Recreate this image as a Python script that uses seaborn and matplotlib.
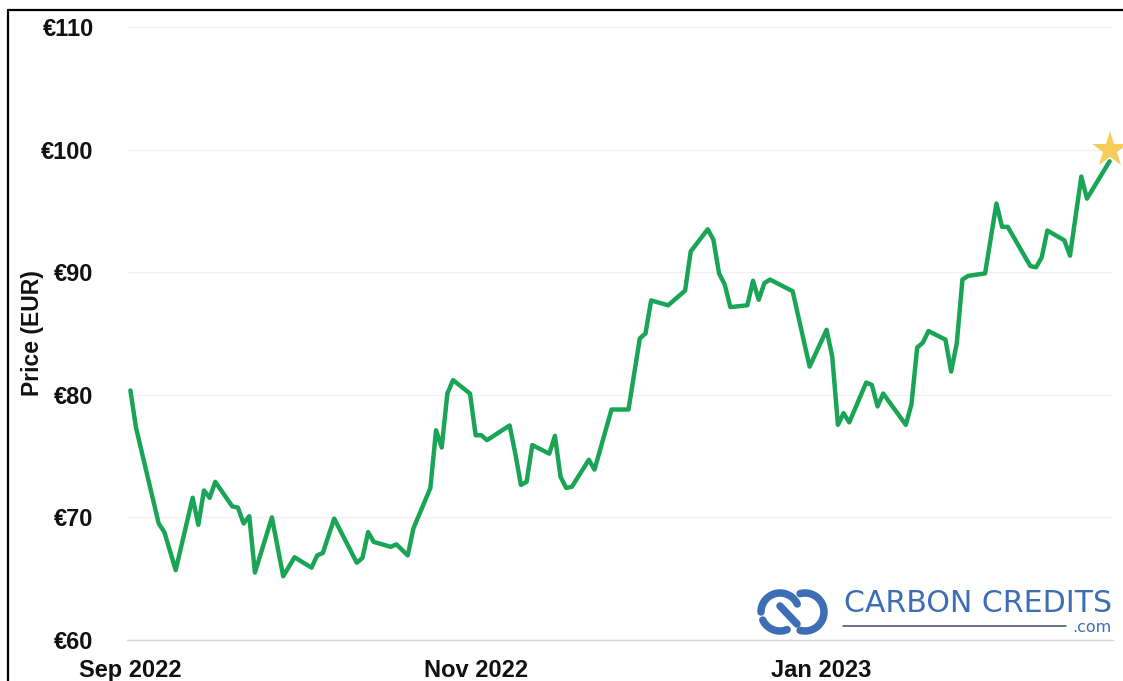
import numpy as np
import pandas as pd
import matplotlib
matplotlib.use("Agg")
import matplotlib.pyplot as plt
import matplotlib.dates as mdates
from matplotlib.lines import Line2D
import seaborn as sns

# EU carbon allowance settlement prices (EUR per tonne)
dates = [
    "2022-09-01", "2022-09-02", "2022-09-06", "2022-09-07", "2022-09-09",
    "2022-09-12", "2022-09-13", "2022-09-14", "2022-09-15", "2022-09-16",
    "2022-09-19", "2022-09-20", "2022-09-21", "2022-09-22", "2022-09-23",
    "2022-09-26", "2022-09-28", "2022-09-30", "2022-10-03", "2022-10-04",
    "2022-10-05", "2022-10-07", "2022-10-11", "2022-10-12", "2022-10-13",
    "2022-10-14", "2022-10-17", "2022-10-18", "2022-10-20", "2022-10-21",
    "2022-10-24", "2022-10-25", "2022-10-26", "2022-10-27", "2022-10-28",
    "2022-10-31", "2022-11-01", "2022-11-02", "2022-11-03", "2022-11-07",
    "2022-11-08", "2022-11-09", "2022-11-10", "2022-11-11", "2022-11-14",
    "2022-11-15", "2022-11-16", "2022-11-17", "2022-11-18", "2022-11-21",
    "2022-11-22", "2022-11-25", "2022-11-28", "2022-11-30", "2022-12-01",
    "2022-12-02", "2022-12-05", "2022-12-08", "2022-12-09", "2022-12-12",
    "2022-12-13", "2022-12-14", "2022-12-15", "2022-12-16", "2022-12-19",
    "2022-12-20", "2022-12-21", "2022-12-22", "2022-12-23", "2022-12-27",
    "2022-12-30", "2023-01-02", "2023-01-03", "2023-01-04", "2023-01-05",
    "2023-01-06", "2023-01-09", "2023-01-10", "2023-01-11", "2023-01-12",
    "2023-01-16", "2023-01-17", "2023-01-18", "2023-01-19", "2023-01-20",
    "2023-01-23", "2023-01-24", "2023-01-25", "2023-01-26", "2023-01-27",
    "2023-01-30", "2023-02-01", "2023-02-02", "2023-02-03", "2023-02-07",
    "2023-02-08", "2023-02-09", "2023-02-10", "2023-02-13", "2023-02-14",
    "2023-02-16", "2023-02-17", "2023-02-21",
]
prices = [
    80.35, 77.3, 69.5, 68.8, 65.7,
    71.6, 69.4, 72.2, 71.6, 72.9,
    70.9, 70.8, 69.5, 70.1, 65.5,
    70.0, 65.2, 66.75, 65.9, 66.9,
    67.1, 69.9, 66.3, 66.7, 68.8,
    68.0, 67.6, 67.8, 66.9, 69.1,
    72.4, 77.1, 75.7, 80.1, 81.2,
    80.1, 76.7, 76.7, 76.3, 77.5,
    75.2, 72.65, 72.9, 75.9, 75.2,
    76.65, 73.3, 72.4, 72.5, 74.7,
    73.9, 78.8, 78.8, 84.6, 85.0,
    87.7, 87.3, 88.5, 91.7, 93.5,
    92.65, 89.9, 89.0, 87.15, 87.3,
    89.3, 87.75, 89.1, 89.4, 88.45,
    82.3, 85.3, 83.1, 77.55, 78.5,
    77.75, 81.0, 80.8, 79.05, 80.1,
    77.55, 79.25, 83.85, 84.25, 85.2,
    84.5, 81.9, 84.2, 89.4, 89.7,
    89.9, 95.6, 93.7, 93.7, 90.5,
    90.4, 91.2, 93.4, 92.6, 91.35,
    97.8, 96.0, 99.05,
]

# Record high marker
peak_date = "2023-02-21"
peak_value = 100

x_tick_dates = ["2022-09-01", "2022-11-01", "2023-01-01"]
x_tick_labels = ["Sep 2022", "Nov 2022", "Jan 2023"]
y_ticks = [60, 70, 80, 90, 100, 110]
y_tick_labels = ["€60", "€70", "€80", "€90", "€100", "€110"]

df = pd.DataFrame({"date": pd.to_datetime(dates), "price": prices})

sns.set_theme(style="white")
plt.rcParams["font.family"] = ["Liberation Sans", "DejaVu Sans"]

W, H = 1123, 681
fig = plt.figure(figsize=(W / 100, H / 100), dpi=100)
fig.patch.set_facecolor("white")

left, right, top, bottom = 127, 1113, 27, 640
ax = fig.add_axes([left / W, 1 - bottom / H, (right - left) / W, (bottom - top) / H])

sns.lineplot(data=df, x="date", y="price", ax=ax, color="#19a456",
             linewidth=3.2, solid_joinstyle="round", solid_capstyle="round")
ax.plot(pd.Timestamp(peak_date), peak_value, marker="*", markersize=27,
        color="#f6cd5b", markeredgewidth=0, zorder=5, clip_on=False)

start = mdates.date2num(pd.Timestamp("2022-09-01"))
ax.set_xlim(start - 0.6, start + 173.6)
ax.set_ylim(60, 110)

ax.set_yticks(y_ticks)
ax.set_yticklabels(y_tick_labels)
ax.set_xticks(pd.to_datetime(x_tick_dates))
ax.set_xticklabels(x_tick_labels)

for lbl in ax.get_yticklabels() + ax.get_xticklabels():
    lbl.set_fontweight("bold")
    lbl.set_fontsize(17)
    lbl.set_color("#111111")

ax.tick_params(axis="y", length=0, pad=24)
ax.tick_params(axis="x", length=4, width=0.8, color="#cccccc", pad=10)

ax.grid(axis="y", color="#f0f0f0", linewidth=1.0)
ax.grid(axis="x", visible=False)
for side in ["top", "right", "left"]:
    ax.spines[side].set_visible(False)
ax.spines["bottom"].set_color("#d5d5d5")
ax.spines["bottom"].set_linewidth(1.0)

ax.set_xlabel("")
ax.set_ylabel("Price (EUR)", fontsize=16.5, fontweight="bold", color="#111111")
ax.yaxis.set_label_coords(-0.084, 0.5)

# Outer frame
fig.add_artist(Line2D([8 / W, 8 / W], [0, 1 - 10 / H], transform=fig.transFigure,
                      color="black", linewidth=1.6))
fig.add_artist(Line2D([8 / W, 1], [1 - 10 / H, 1 - 10 / H], transform=fig.transFigure,
                      color="black", linewidth=1.6))

# Brand mark in the lower right corner
logo = fig.add_axes([0, 0, 1, 1], zorder=10)
logo.set_xlim(0, W)
logo.set_ylim(H, 0)
logo.axis("off")
logo.patch.set_alpha(0)

blue = "#3d6db4"


def arc(cx, cy, r, a0, a1):
    t = np.radians(np.linspace(a0, a1, 60))
    logo.plot(cx + r * np.cos(t), cy - r * np.sin(t), color=blue, linewidth=5.4,
              solid_capstyle="round")


arc(780, 612, 19, 25, 180)
arc(780, 612, 19, 205, 292)
arc(805, 612, 19, -105, 105)
logo.plot([780, 797], [606, 624], color=blue, linewidth=5.4, solid_capstyle="round")

logo.text(1112, 612, "CARBON CREDITS", ha="right", va="baseline", fontsize=21.6,
          color=blue, family=["DejaVu Sans"])
logo.plot([843, 1066], [626, 626], color="#3a4f70", linewidth=1.1)
logo.text(1111, 632, ".com", ha="right", va="baseline", fontsize=11.5,
          color=blue, family=["DejaVu Sans"])

fig.savefig("out.png", dpi=100)
